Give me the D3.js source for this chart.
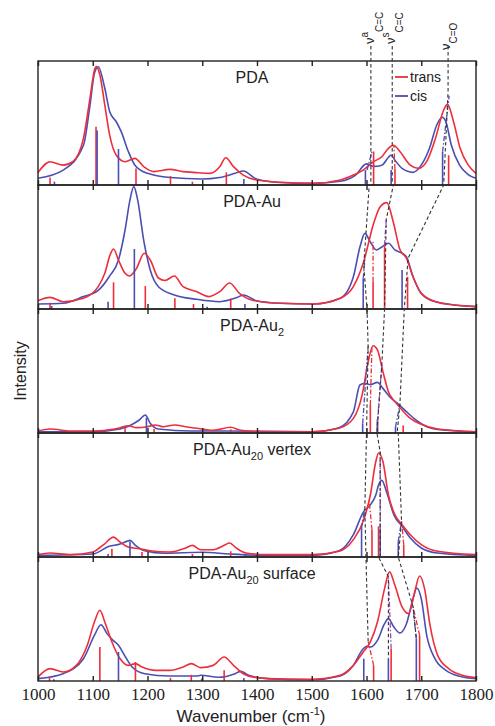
<html>
<head>
<meta charset="UTF-8"/>
<script src="https://d3js.org/d3.v7.min.js"></script>
<title>PDA spectra</title>
<style>
body{margin:0;background:#fff;}
text{font-family:"Liberation Sans", Arial, sans-serif;fill:#222;}
.tick text{font-family:"Liberation Serif", "Times New Roman", serif;font-size:17px;}
</style>
</head>
<body>
<svg id='big' width=495 height=726></svg>
<script>
'use strict';

// wavenumber (cm-1), intensity in arbitrary units (0-100 per panel)
var wavenumberTicks = [1000, 1100, 1200, 1300, 1400, 1500, 1600, 1700, 1800];

var pdaTrans = [[1000,10],[1022,18.8],[1046,16],[1064,19],[1083,37.6],[1095,70],[1104,94],[1107,95.5],[1113,88.7],[1122,64.5],[1131,40],[1143,24],[1159,18.8],[1177,21.5],[1193,14.8],[1211,10.8],[1241,12.6],[1265,10.8],[1284,10.2],[1314,9.4],[1332,14.8],[1343,22],[1357,14.8],[1375,8],[1399,4],[1442,2.2],[1503,1.3],[1552,4],[1576,8],[1594,12],[1613,18.8],[1628,22.8],[1640,29.6],[1649,32],[1661,27],[1680,16],[1695,13.4],[1710,19],[1726,37.6],[1741,60.5],[1748,65],[1759,51],[1771,29.6],[1786,16],[1800,9.4]];
var pdaCis = [[1000,5.4],[1046,12],[1083,32],[1095,64.5],[1103,90],[1110,95.4],[1122,78],[1131,59],[1143,51],[1152,43],[1165,27],[1177,16],[1200,9.4],[1241,6],[1300,4.8],[1332,6],[1360,9.4],[1375,11.3],[1399,4.8],[1442,2],[1503,1.3],[1552,3],[1580,8],[1600,17],[1613,15],[1628,16],[1645,24],[1652,20],[1665,13.4],[1685,10.2],[1700,16],[1715,29.6],[1728,48],[1738,54.6],[1745,51],[1755,32],[1770,16],[1785,8.6],[1800,5.4]];
var pdaTransSticks = [[1022,6],[1106,47],[1179,13.4],[1242,7.3],[1282,2.7],[1344,10.2],[1613,27],[1652,13],[1750,24]];
var pdaCisSticks = [[1030,2.7],[1108,44],[1147,29],[1376,4.8],[1598,12],[1645,12],[1739,27]];

var auTrans = [[1000,6.7],[1022,9.4],[1046,5.9],[1083,8.6],[1110,18],[1122,28.8],[1132,44],[1138,48.4],[1147,39.5],[1159,28.8],[1167,26.6],[1180,32.8],[1194,45],[1205,39.5],[1220,25],[1232,23],[1249,26.6],[1265,18],[1290,14],[1312,10],[1332,14],[1350,21],[1368,12.6],[1390,7.3],[1442,4.6],[1503,4],[1552,8.6],[1576,18],[1594,36.8],[1613,69],[1625,82.5],[1637,85.8],[1649,70],[1661,48],[1673,41],[1685,26],[1700,12.6],[1726,5.9],[1760,3.2],[1800,1.9]];
var auCis = [[1000,4],[1046,4.6],[1083,10],[1110,15],[1130,26],[1147,39.5],[1159,63.7],[1168,88],[1175,98.7],[1182,88],[1193,55.6],[1205,31.5],[1220,18],[1249,11.3],[1290,7.8],[1332,5.9],[1362,9],[1375,11.3],[1399,6.7],[1442,4.6],[1503,4],[1552,8.6],[1576,26],[1588,50],[1597,61],[1607,54],[1618,47.6],[1628,50],[1640,53],[1652,47.6],[1665,45],[1673,42],[1685,26],[1700,12.6],[1726,5.9],[1800,1.9]];
var auTransSticks = [[1022,5],[1138,21.5],[1196,18.5],[1250,8.6],[1284,4],[1352,8.6],[1612,22],[1633,51.6],[1675,26]];
var auCisSticks = [[1025,2.4],[1128,5.9],[1176,48.4],[1309,1.9],[1378,4],[1594,24.7],[1665,31.5]];

var au2Trans = [[1000,1.6],[1022,3.2],[1060,1.6],[1100,1.6],[1140,3.2],[1150,4.3],[1165,5.9],[1180,4.3],[1200,5.1],[1214,6.5],[1228,5.1],[1250,6.5],[1270,5.1],[1290,3.8],[1320,2.2],[1352,4.6],[1370,2.2],[1420,1],[1500,1],[1550,3.8],[1576,11.8],[1592,30.6],[1603,57.5],[1612,70.4],[1620,67],[1630,49.5],[1640,33.3],[1652,25.3],[1665,18.5],[1680,11.8],[1700,7],[1730,3.2],[1800,1]];
var au2Cis = [[1000,1],[1100,1],[1150,3.2],[1170,6.5],[1185,10.5],[1196,14.5],[1205,7.8],[1220,3.2],[1280,1.6],[1350,1.6],[1500,1],[1550,4.3],[1576,17],[1588,38.7],[1597,40],[1607,39],[1620,40.8],[1630,36],[1645,28],[1660,22.6],[1673,17.2],[1690,10.5],[1710,5.1],[1740,2.4],[1800,1]];
var au2TransSticks = [[1159,3.8],[1212,3.2],[1352,3],[1607,22.6],[1620,9],[1667,6]];
var au2CisSticks = [[1198,12.4],[1593,7.8],[1620,11],[1653,5]];

var vertexTrans = [[1000,1.9],[1022,3.2],[1060,1.9],[1100,4],[1120,10],[1138,16],[1150,12],[1165,8],[1185,6.7],[1205,5],[1240,4],[1270,7.3],[1282,9.4],[1297,5.9],[1320,5.9],[1340,9.4],[1350,11.3],[1362,7.3],[1380,3.2],[1420,1.9],[1500,1.9],[1550,4.6],[1576,14],[1594,28.8],[1607,50],[1617,77],[1622,83.9],[1630,77],[1640,50],[1652,34],[1665,26],[1680,18],[1700,10],[1730,4.6],[1800,1.9]];
var vertexCis = [[1000,1.3],[1100,2.4],[1130,8.6],[1150,10.5],[1162,12.6],[1168,13.4],[1178,9.4],[1195,5],[1230,3],[1300,3.8],[1350,2.4],[1420,1.3],[1500,1.3],[1550,5],[1576,18],[1594,36],[1607,42],[1617,50],[1622,58],[1628,61.8],[1637,52],[1650,34],[1665,24.7],[1680,15.3],[1700,7.3],[1730,3.2],[1800,1.3]];
var vertexTransSticks = [[1135,6.7],[1190,4],[1282,2.4],[1352,4.6],[1610,22],[1622,24.7],[1668,10]];
var vertexCisSticks = [[1128,2.4],[1168,12.6],[1379,1.5],[1591,23.4],[1625,23],[1658,12.6]];

var surfTrans = [[1000,3.2],[1022,10],[1046,7.3],[1070,12.6],[1090,28.8],[1103,47.6],[1113,57],[1122,47.6],[1135,31.5],[1150,18],[1165,12.6],[1178,14],[1190,11.3],[1215,8.6],[1240,8.6],[1265,11.3],[1280,14],[1297,10.8],[1320,12.6],[1340,19.4],[1357,12.6],[1375,5.9],[1400,2.7],[1450,1.3],[1500,1.3],[1552,4.6],[1576,12.6],[1594,23.4],[1607,31.5],[1620,47.6],[1633,74.5],[1642,88],[1652,77],[1665,59.7],[1677,54.3],[1688,71.8],[1697,84.7],[1706,74.5],[1716,45],[1730,20.7],[1750,10],[1775,4.6],[1800,2.7]];
var surfCis = [[1000,1.9],[1046,5.9],[1083,18],[1103,36.8],[1115,45.4],[1126,38.2],[1137,32.8],[1147,28.8],[1158,20.7],[1172,11.3],[1195,5.9],[1240,4],[1290,4],[1297,4.6],[1330,3],[1360,5.9],[1370,7.8],[1385,4.6],[1420,1.9],[1500,1],[1552,4],[1576,12.6],[1594,26],[1601,28],[1607,27.4],[1620,32.8],[1633,46.2],[1640,50.3],[1650,43.5],[1661,38.7],[1673,46.2],[1685,66.4],[1692,75],[1700,66.4],[1710,36.8],[1725,18],[1745,8.6],[1770,3.8],[1800,1.9]];
var surfTransSticks = [[1021,3.2],[1113,27.4],[1178,15.3],[1242,2.5],[1280,5],[1340,8.6],[1613,12.6],[1645,26],[1697,36.8]];
var surfCisSticks = [[1029,1.5],[1147,23.4],[1299,2],[1376,2.5],[1595,18],[1640,18],[1691,34]];

// panel labels: [name, subscript, rest]
var panelLabels = [['PDA','',''],['PDA-Au','',''],['PDA-Au','2',''],['PDA-Au','20',' vertex'],['PDA-Au','20',' surface']];

// mode tracking lines: [wavenumber, panel, intensity]
var modeAsym = [[1608,0,112],[1608,0,0],[1605,1,100],[1595,1,35],[1601,1,0],[1601,2,100],[1603,2,70],[1600,2,0],[1600,3,100],[1597,3,40],[1599,3,0],[1599,4,100],[1603,4,32]];
var modeSym = [[1647,0,112],[1647,0,0],[1649,1,100],[1636,1,72],[1633,1,0],[1633,2,100],[1628,2,55],[1619,2,0],[1619,3,100],[1625,3,85],[1625,3,0],[1622,4,100],[1640,4,84],[1640,4,18]];
var modeCO = [[1749,0,112],[1749,0,75],[1741,0,0],[1741,1,100],[1676,1,41],[1669,1,0],[1669,2,100],[1661,2,23],[1656,2,0],[1658,3,100],[1664,3,29],[1658,3,0],[1658,4,100],[1685,4,60],[1691,4,34]];

// coloured stick-to-peak guides: [panel, wn1, int1, wn2, int2, colour]
var modeGuides = [
	[0,1739,27,1751,72,'cis'],[0,1652,13,1650,32,'trans'],[0,1601,12,1610,27,'cis'],
	[1,1612,22,1612,55,'trans'],[1,1594,24.7,1597,40,'cis'],[1,1633,51.6,1636,72,'mix'],
	[2,1607,22.6,1610,70,'trans'],[2,1620,9,1628,55,'mix'],[2,1593,7.8,1603,70,'cis'],[2,1653,5,1661,23,'cis'],
	[3,1591,23.4,1597,40,'cis'],[3,1610,22,1605,45,'trans'],[3,1625,23,1625,85,'mix'],[3,1658,12.6,1664,29,'cis'],[3,1668,10,1664,29,'trans'],
	[4,1613,12.6,1603,32,'trans'],[4,1645,26,1640,84,'mix'],[4,1691,34,1685,60,'cis'],[4,1697,36.8,1685,60,'trans']
];

var transColor = '#ee2e3b';
var cisColor = '#4a4fb2';
var mixColor = '#9c45c4';

function main(){
	var svg = d3.select('#big');
	var left = 38, right = 476, top = 61, panelH = 124;

	var sx = d3.scaleLinear().domain([1000, 1800]).range([left, right]);
	var sys = d3.range(5).map(function(i){
		return d3.scaleLinear().domain([0, 100]).range([top + (i+1)*panelH, top + i*panelH]);
	});
	var guideColor = {trans: transColor, cis: cisColor, mix: mixColor};

	var panels = [
		{trans: pdaTrans, cis: pdaCis, ts: pdaTransSticks, cs: pdaCisSticks},
		{trans: auTrans, cis: auCis, ts: auTransSticks, cs: auCisSticks},
		{trans: au2Trans, cis: au2Cis, ts: au2TransSticks, cs: au2CisSticks},
		{trans: vertexTrans, cis: vertexCis, ts: vertexTransSticks, cs: vertexCisSticks},
		{trans: surfTrans, cis: surfCis, ts: surfTransSticks, cs: surfCisSticks}
	];

	panels.forEach(function(p, i){
		var sy = sys[i];
		var line = d3.line()
			.x(function(d){ return sx(d[0]); })
			.y(function(d){ return sy(d[1]); })
			.curve(d3.curveMonotoneX);

		var g = svg.append('g').attr('class', 'panel');

		[[p.cis, cisColor], [p.trans, transColor]].forEach(function(c){
			g.append('path')
				.datum(c[0])
				.attr('d', line)
				.attr('fill', 'none')
				.attr('stroke', c[1])
				.attr('stroke-width', 1.6);
		});

		[[p.ts, transColor], [p.cs, cisColor]].forEach(function(c){
			g.selectAll(null)
				.data(c[0])
				.enter()
				.append('line')
				.attr('x1', function(d){ return sx(d[0]); })
				.attr('x2', function(d){ return sx(d[0]); })
				.attr('y1', sy(0))
				.attr('y2', function(d){ return sy(d[1]); })
				.attr('stroke', c[1])
				.attr('stroke-width', 1.6);
		});

		g.selectAll(null)
			.data(modeGuides.filter(function(d){ return d[0] == i; }))
			.enter()
			.append('line')
			.attr('x1', function(d){ return sx(d[1]); })
			.attr('y1', function(d){ return sy(d[2]); })
			.attr('x2', function(d){ return sx(d[3]); })
			.attr('y2', function(d){ return sy(d[4]); })
			.attr('stroke', function(d){ return guideColor[d[5]]; })
			.attr('stroke-width', 1.3)
			.attr('stroke-dasharray', '5,2,1.5,2');

		// frame
		g.append('rect')
			.attr('x', left).attr('y', sy(100))
			.attr('width', right-left).attr('height', panelH)
			.attr('fill', 'none').attr('stroke', '#222').attr('stroke-width', 1.4);

		var bottomAxis = d3.axisBottom(sx).tickValues(wavenumberTicks).tickSize(-5).tickPadding(7)
			.tickFormat(i == 4 ? d3.format('d') : function(){ return ''; });
		svg.append('g')
			.attr('transform', 'translate(0,' + sy(0) + ')')
			.call(bottomAxis)
			.call(function(a){ a.select('.domain').remove(); a.selectAll('line').attr('stroke', '#222').attr('stroke-width', 1.4); a.selectAll('text').attr('fill', '#222'); });

		svg.append('g')
			.attr('transform', 'translate(0,' + sy(100) + ')')
			.call(d3.axisTop(sx).tickValues(wavenumberTicks).tickSize(-5).tickFormat(function(){ return ''; }))
			.call(function(a){ a.select('.domain').remove(); a.selectAll('line').attr('stroke', '#222').attr('stroke-width', 1.4); });

		// panel label
		var lab = panelLabels[i];
		var t = svg.append('text')
			.attr('x', sx(1391))
			.attr('y', sy(100) + 22)
			.attr('text-anchor', 'middle')
			.attr('font-size', 16);
		t.append('tspan').text(lab[0]);
		if (lab[1]) t.append('tspan').attr('font-size', 11).attr('dy', 5).text(lab[1]);
		if (lab[2]) t.append('tspan').attr('dy', -5).text(lab[2]);
	});

	// mode tracking dashed lines
	var modeLine = d3.line()
		.x(function(d){ return sx(d[0]); })
		.y(function(d){ return sys[d[1]](d[2]); });
	[modeAsym, modeSym, modeCO].forEach(function(m){
		svg.append('path')
			.datum(m)
			.attr('d', modeLine)
			.attr('fill', 'none')
			.attr('stroke', '#333')
			.attr('stroke-width', 1.1)
			.attr('stroke-dasharray', '3.5,2.5');
	});

	// mode labels (rotated)
	function modeLabel(x, y, sup, sub, subShift){
		var t = svg.append('text')
			.attr('transform', 'translate(' + x + ',' + y + ') rotate(-90)')
			.attr('font-size', 13);
		t.append('tspan').text('\u03bd');
		if (sup) t.append('tspan').attr('font-size', 10).attr('dy', -6.5).text(sup);
		t.append('tspan').attr('font-size', 10).attr('dy', sup ? 6.5 + subShift : subShift).text(sub);
	}
	modeLabel(374, 44, 'a', 'C=C', 9);
	modeLabel(395, 44, 's', 'C=C', 8);
	modeLabel(450, 50, '', 'C=O', 7);

	// legend
	var legend = [['trans', transColor], ['cis', cisColor]];
	legend.forEach(function(l, i){
		var y = 77 + i*19;
		svg.append('line').attr('x1', 395).attr('x2', 408).attr('y1', y).attr('y2', y)
			.attr('stroke', l[1]).attr('stroke-width', 1.8);
		svg.append('text').attr('x', 410).attr('y', y + 5).attr('font-size', 14).text(l[0]);
	});

	// axis titles
	var xt = svg.append('text')
		.attr('x', 251)
		.attr('y', 722)
		.attr('text-anchor', 'middle')
		.attr('font-size', 17);
	xt.append('tspan').text('Wavenumber (cm');
	xt.append('tspan').attr('font-size', 11).attr('dy', -7).text('-1');
	xt.append('tspan').attr('dy', 7).text(')');

	svg.append('text')
		.attr('transform', 'translate(26,' + (top + 2.5*panelH) + ') rotate(-90)')
		.attr('text-anchor', 'middle')
		.attr('font-size', 16)
		.text('Intensity');

	return svg;
}

var svg = main();
</script>
</body>
</html>
